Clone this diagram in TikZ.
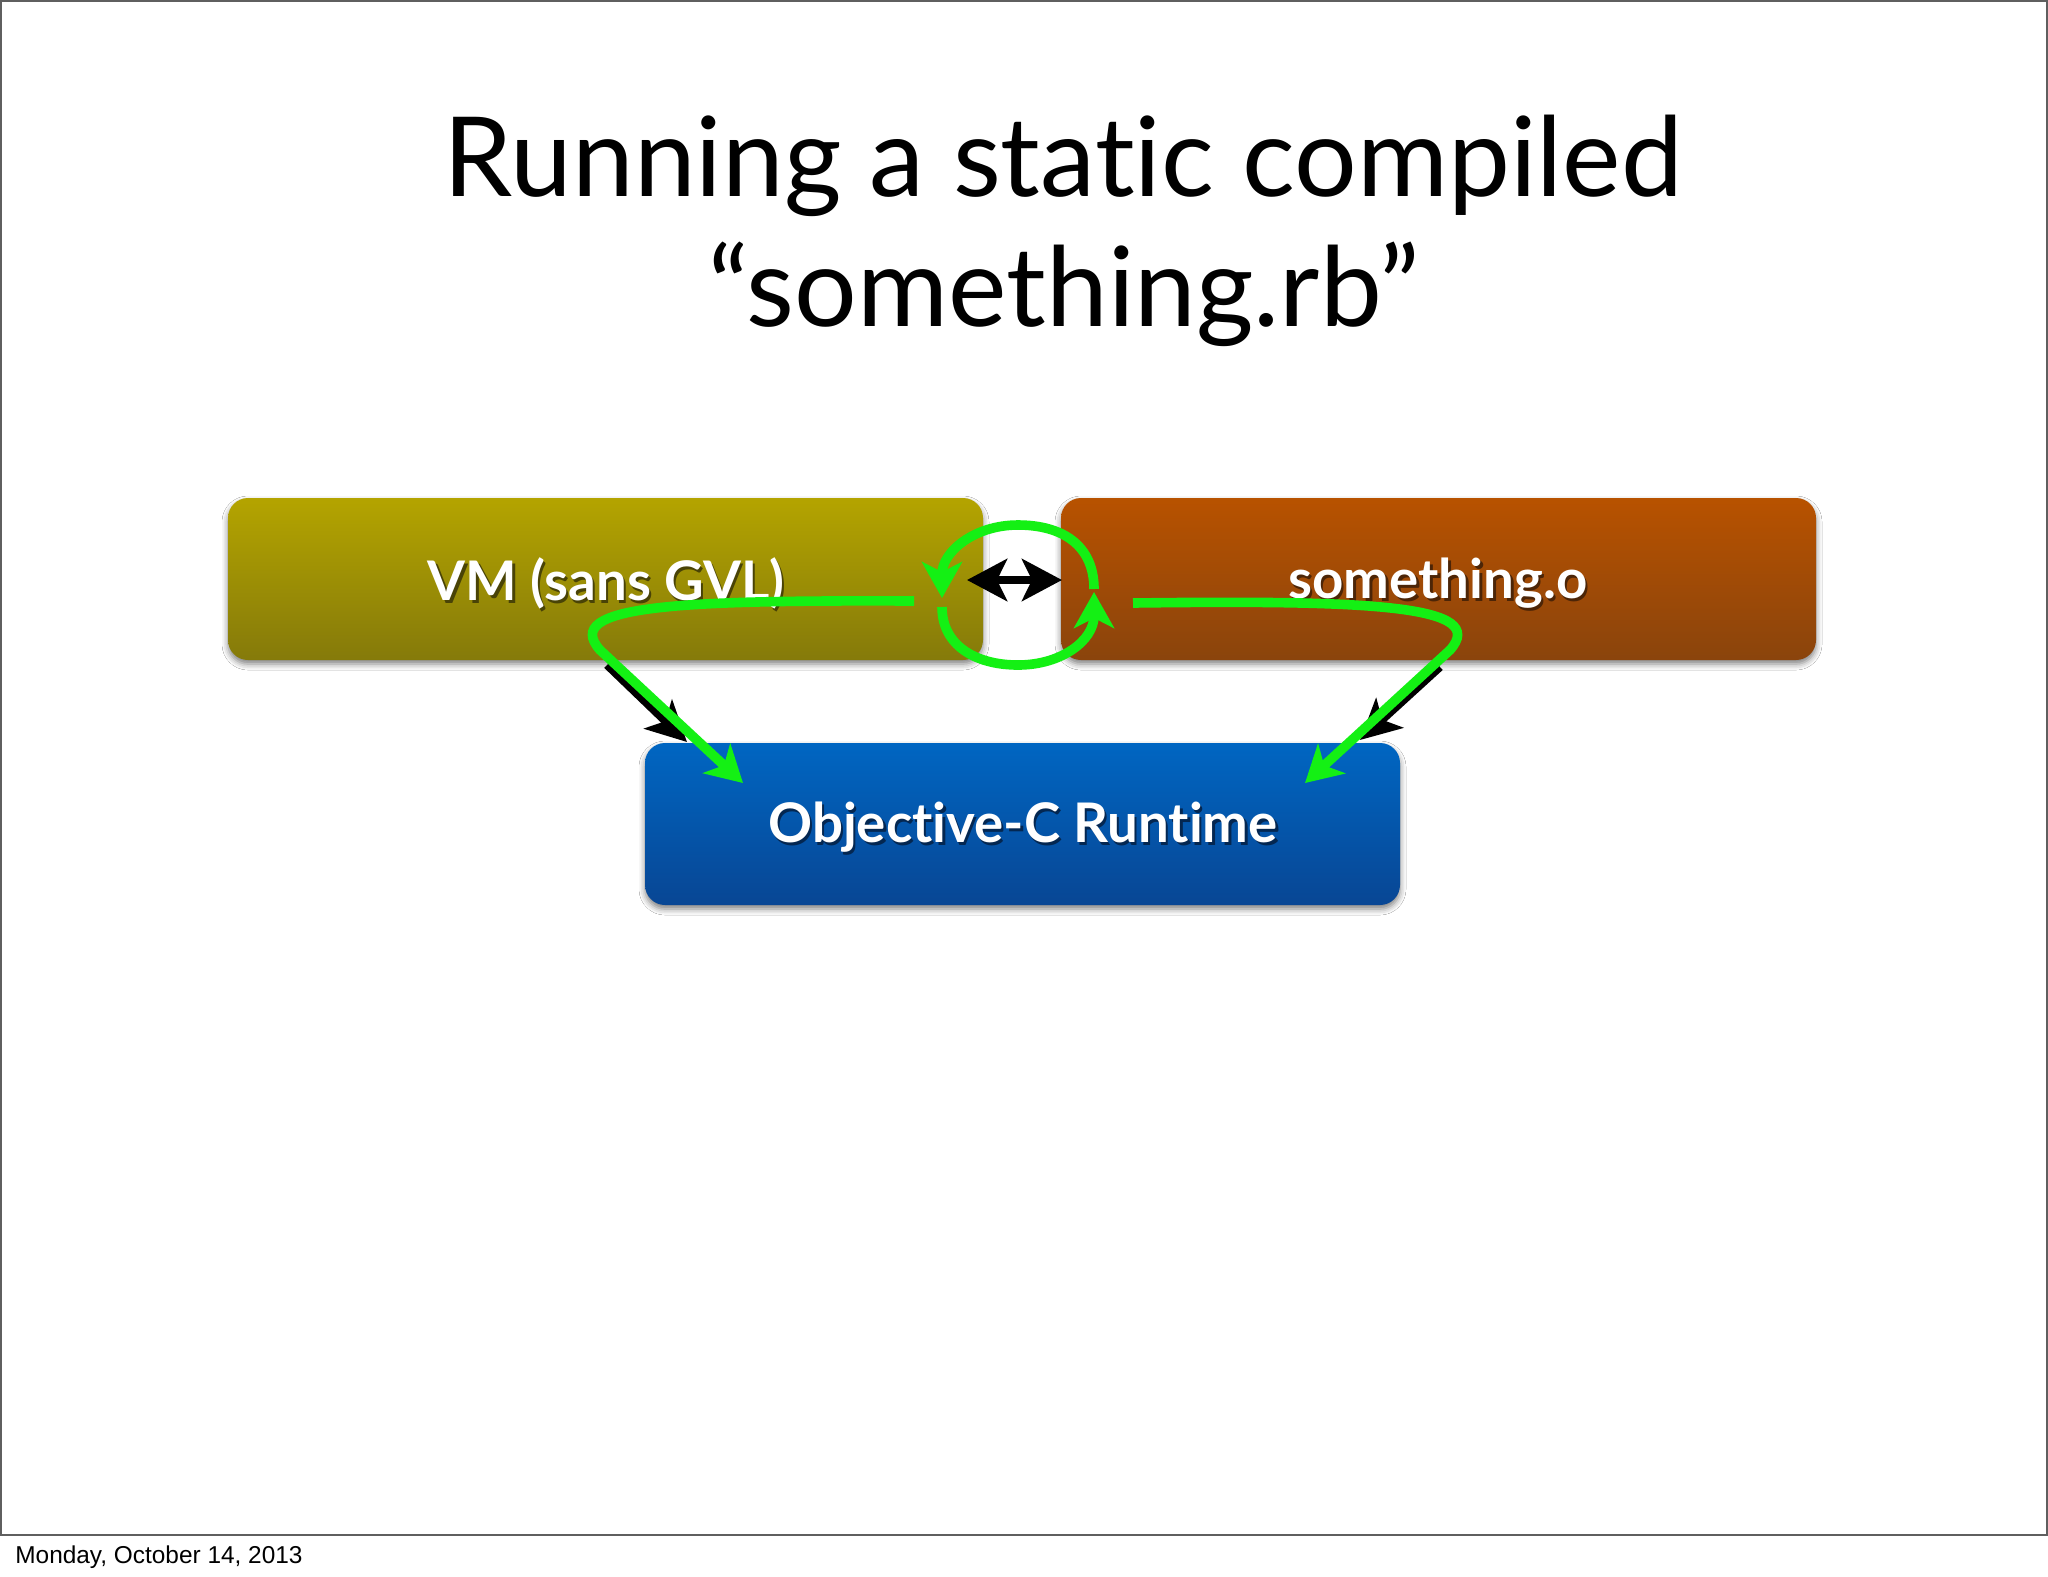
\documentclass[tikz,border=0pt]{standalone}
\usepackage{fontspec}
\setmainfont[Ligatures=NoCommon]{Lato}
\newfontfamily\footfont{Liberation Sans}
\usetikzlibrary{arrows.meta,shadows.blur}
\definecolor{vmtop}{RGB}{180,164,0}
\definecolor{vmbot}{RGB}{133,122,10}
\definecolor{sotop}{RGB}{184,82,0}
\definecolor{sobot}{RGB}{138,68,12}
\definecolor{octop}{RGB}{0,102,194}
\definecolor{ocbot}{RGB}{8,70,148}
\definecolor{grn}{RGB}{20,240,20}
\definecolor{frame}{RGB}{95,95,95}
\newcommand\shadowtext[2]{\makebox[0pt][l]{\kern1.2pt\raisebox{-1.6pt}{\textcolor{#1}{#2}}}#2}
\tikzset{
  px/.style={x=0.5pt,y=-0.5pt},
  box/.style={rounded corners=10pt, inner sep=0pt, minimum width=377.5pt, minimum height=81pt,
    blur shadow={shadow xshift=0pt, shadow yshift=-2pt, shadow blur radius=3pt, shadow opacity=50}},
  boxtext/.style={text=white, font=\fontsize{27.3}{32}\selectfont\bfseries, inner sep=0pt},
  titletext/.style={font=\fontsize{55.3}{64}\selectfont, inner sep=0pt, anchor=base},
  blackarrow/.style={line width=4pt, black, -{Stealth[length=20pt,width=20pt,inset=5pt]}},
  blackdouble/.style={line width=4.3pt, black, {Stealth[length=20pt,width=21pt,inset=5pt]}-{Stealth[length=20pt,width=21pt,inset=5pt]}},
  greenarrow/.style={line width=4.8pt, grn, -{Stealth[length=18pt,width=20pt,inset=5pt]}},
}
\begin{document}
\begin{tikzpicture}[px]
\useasboundingbox (0,0) rectangle (2048,1576);
\fill[white] (0,0) rectangle (2048,1576);
\draw[frame, line width=1pt] (1,1) rectangle (2047,1535);

% title
\node[titletext] (t1) at (1063,196) {Running a static compiled};
\node[titletext] (t2) at (1064,326) {“something.rb”};

% boxes
\node[box, top color=vmtop, bottom color=vmbot] (vm) at (605.5,579) {};
\node[box, top color=sotop, bottom color=sobot] (so) at (1438.5,579) {};
\node[box, top color=octop, bottom color=ocbot] (oc) at (1022.5,824) {};

\node[boxtext] (vmt) at (606,585) {\shadowtext{vmbot!55!black}{VM (sans GVL)}};
\node[boxtext] (sot) at (1438,585) {\shadowtext{sobot!55!black}{something.o}};
\node[boxtext] (oct) at (1023,829) {\shadowtext{ocbot!55!black}{Objective-C Runtime}};

% connector end points
\coordinate (dl) at (967,580);
\coordinate (dr) at (1062,580);
\coordinate (a1s) at (607,665);
\coordinate (a1e) at (687,742);
\coordinate (a2s) at (1440,667);
\coordinate (a2e) at (1360,740);

\draw[blackdouble] (dl) -- (dr);
\draw[blackarrow] (a1s) -- (a1e);
\draw[blackarrow] (a2s) -- (a2e);

% green paths
\coordinate (g1s) at (914,601);
\coordinate (g1b) at (600,650);
\coordinate (g1e) at (743,783);
\coordinate (g2s) at (1133,603);
\coordinate (g2b) at (1450,650);
\coordinate (g2e) at (1305,783);
\coordinate (lu1) at (1094,589);
\coordinate (lu2) at (942,598);
\coordinate (ll1) at (942,607);
\coordinate (ll2) at (1094,592);

\draw[greenarrow] (g1s) .. controls (680,600) and (560,605) .. (g1b) -- (g1e);
\draw[greenarrow] (g2s) .. controls (1370,600) and (1490,605) .. (g2b) -- (g2e);
\draw[greenarrow] (lu1) .. controls (1094,545) and (1062,525) .. (1018,525) .. controls (974,525) and (942,552) .. (lu2);
\draw[greenarrow] (ll1) .. controls (942,645) and (975,665) .. (1018,665) .. controls (1062,665) and (1094,640) .. (ll2);

% footer
\node[font=\footfont\fontsize{12.2}{14}\selectfont, anchor=base west, inner sep=0pt] (foot) at (15,1563) {Monday, October 14, 2013};
\end{tikzpicture}
\end{document}
